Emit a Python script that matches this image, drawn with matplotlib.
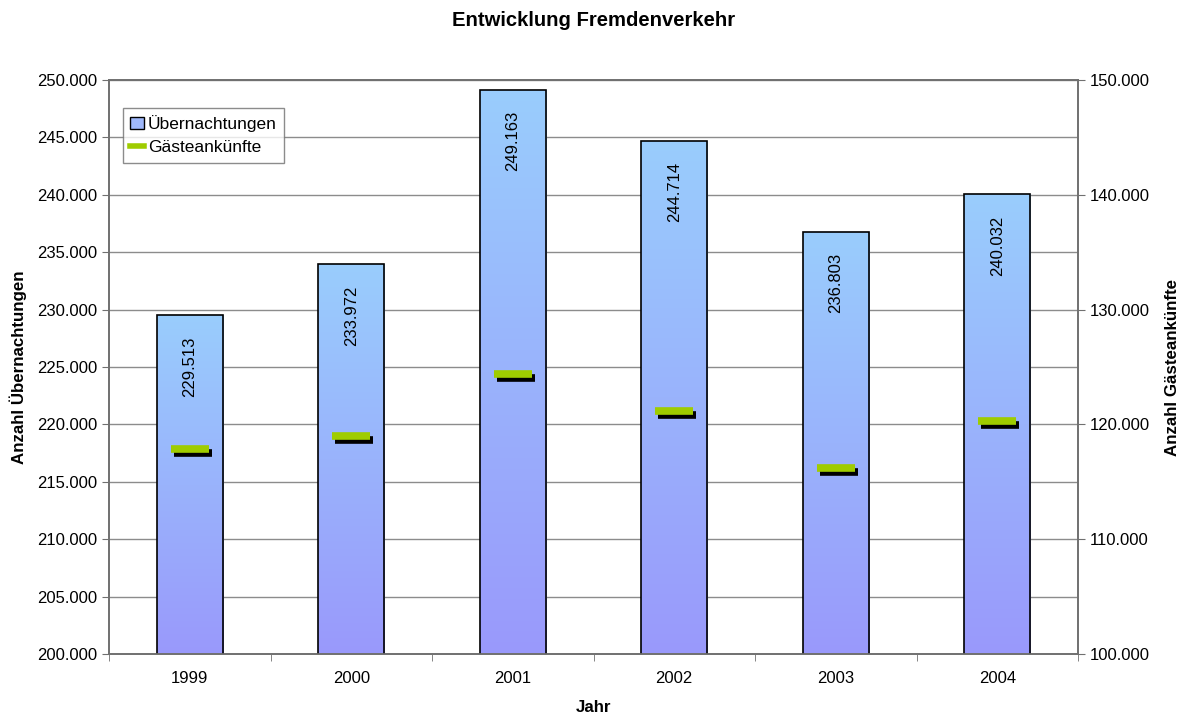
import numpy as np
import matplotlib.pyplot as plt
import matplotlib.transforms as mtransforms
from matplotlib.colors import LinearSegmentedColormap
from matplotlib.ticker import FuncFormatter, MultipleLocator
from matplotlib.lines import Line2D
from matplotlib.patches import Patch

plt.rcParams['font.family'] = ['Liberation Sans', 'DejaVu Sans']

years = ['1999', '2000', '2001', '2002', '2003', '2004']
uebernachtungen = [229513, 233972, 249163, 244714, 236803, 240032]
gaesteankuenfte = [117900, 119000, 124400, 121200, 116200, 120300]


def thousands(v, pos=None):
    return f"{int(round(v)):,}".replace(",", ".")


def main():
    fig = plt.figure(figsize=(11.87, 7.17), dpi=100)
    ax = fig.add_axes([109 / 1187, 1 - 654 / 717, (1078 - 109) / 1187, (654 - 80) / 717])
    ax2 = ax.twinx()

    x = np.arange(len(years))
    width = 0.41
    cmap = LinearSegmentedColormap.from_list('grad', ['#9a99fb', '#99cdfd'])
    grad = np.linspace(0, 1, 256).reshape(-1, 1)

    bars = ax.bar(x, uebernachtungen, width, bottom=0, color='none',
                  edgecolor='black', linewidth=1.2, zorder=3)
    for b in bars:
        x0, w, h = b.get_x(), b.get_width(), b.get_height()
        im = ax.imshow(grad, extent=[x0, x0 + w, 200000, h], origin='lower',
                       aspect='auto', cmap=cmap, zorder=2)
        im.set_clip_path(b)

    # rotated value labels inside the bars
    for xi, v in zip(x, uebernachtungen):
        ax.annotate(thousands(v), (xi, v), xytext=(0, -15.5), textcoords='offset points',
                    rotation=90, ha='center', va='top', fontsize=12, zorder=4)

    ax.set_xlim(-0.5, len(years) - 0.5)
    ax.set_ylim(200000, 250000)
    ax.yaxis.set_major_locator(MultipleLocator(5000))
    ax.yaxis.set_major_formatter(FuncFormatter(thousands))
    ax.grid(axis='y', color='#8c8c8c', linewidth=1.0, zorder=0)
    ax.set_axisbelow(True)
    ax.set_xticks(x)
    ax.set_xticklabels(years)
    ax.set_xticks(np.arange(-0.5, len(years), 1.0), minor=True)
    ax.tick_params(axis='x', which='major', length=0, pad=12, labelsize=12)
    ax.tick_params(axis='x', which='minor', length=5, color='#707070')
    ax.tick_params(axis='y', length=5, color='#707070', labelsize=12)

    # Gästeankünfte markers with a small drop shadow
    ax2.set_ylim(100000, 150000)
    ax2.yaxis.set_major_locator(MultipleLocator(10000))
    ax2.yaxis.set_major_formatter(FuncFormatter(thousands))
    ax2.tick_params(axis='y', length=5, color='#707070', labelsize=12)
    shadow = mtransforms.offset_copy(ax2.transData, fig=fig, x=3, y=-4, units='dots')
    ax2.plot(x, gaesteankuenfte, linestyle='none', marker='_', markersize=27,
             markeredgewidth=5.5, color='black', transform=shadow, zorder=5)
    ax2.plot(x, gaesteankuenfte, linestyle='none', marker='_', markersize=27,
             markeredgewidth=5.5, color='#9fcc00', zorder=6)

    for a in (ax, ax2):
        for s in a.spines.values():
            s.set_color('#707070')
            s.set_linewidth(1.2)

    ax.set_ylabel('Anzahl Übernachtungen', fontsize=12.2, fontweight='bold', labelpad=7)
    ax2.set_ylabel('Anzahl Gästeankünfte', fontsize=12.2, fontweight='bold', labelpad=11)
    ax.set_xlabel('Jahr', fontsize=12.2, fontweight='bold', labelpad=10)
    fig.suptitle('Entwicklung Fremdenverkehr', fontsize=14.6, fontweight='bold', y=0.985)

    handles = [Patch(facecolor='#9fb8fb', edgecolor='black', label='Übernachtungen'),
               Line2D([0], [0], color='#9fcc00', linewidth=4, label='Gästeankünfte')]
    leg = ax.legend(handles=handles, loc='upper left', bbox_to_anchor=(0.005, 0.967),
                    fontsize=12.5, frameon=True, fancybox=False, handlelength=0.8,
                    handletextpad=0.2, borderpad=0.45, labelspacing=0.45)
    leg.get_frame().set_edgecolor('#707070')
    leg.set_zorder(10)

    fig.savefig('out.png', dpi=100)


if __name__ == "__main__":
    main()
